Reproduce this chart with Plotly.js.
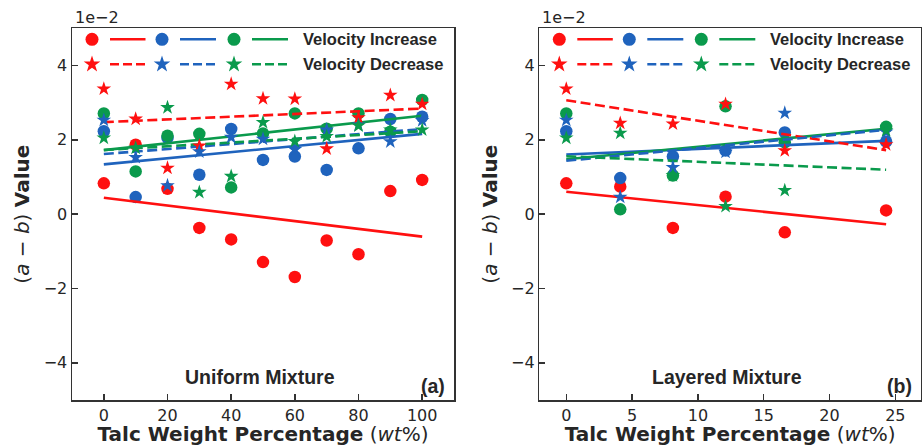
<!DOCTYPE html>
<html>
<head>
<meta charset="utf-8">
<script src="https://cdn.plot.ly/plotly-3.0.1.min.js"></script>
<style>html,body{margin:0;padding:0;background:#fff;}#chart{width:922px;height:446px;}</style>
</head>
<body>
<div id="chart"></div>
<script>
// ---------- DATA (values in units of 1e-2) ----------
const xUniform = [0, 10, 20, 30, 40, 50, 60, 70, 80, 90, 100];
const uRedInc   = [0.83, 1.87, 0.68, -0.37, -0.68, -1.29, -1.69, -0.71, -1.08, 0.62, 0.92];
const uBlueInc  = [2.23, 0.46, 2.05, 1.06, 2.29, 1.46, 1.55, 1.19, 1.77, 2.56, 2.62];
const uGreenInc = [2.71, 1.15, 2.11, 2.16, 0.72, 2.17, 2.71, 2.30, 2.71, 2.22, 3.07];
const uRedDec   = [3.37, 2.56, 1.24, 1.84, 3.50, 3.11, 3.10, 1.76, 2.60, 3.20, 2.96];
const uBlueDec  = [2.53, 1.53, 0.77, 1.68, 2.07, 2.02, 1.74, 2.27, 2.40, 1.95, 2.52];
const uGreenDec = [2.05, 1.78, 2.87, 0.59, 1.02, 2.47, 1.96, 2.09, 2.38, 2.27, 2.27];

const xLayered = [0, 4.1, 8.1, 12.1, 16.6, 24.3];
const lRedInc   = [0.83, 0.74, -0.37, 0.47, -0.49, 0.10];
const lBlueInc  = [2.23, 0.97, 1.55, 1.71, 2.20, 1.95];
const lGreenInc = [2.71, 0.13, 1.04, 2.90, 1.93, 2.35];
const lRedDec   = [3.37, 2.45, 2.43, 2.96, 1.71, 1.87];
const lBlueDec  = [2.53, 0.46, 1.26, 1.67, 2.72, 2.21];
const lGreenDec = [2.05, 2.18, 1.04, 0.21, 0.64, 2.25];

const yTicks = [-4, -2, 0, 2, 4];
const xTicksUniform = [0, 20, 40, 60, 80, 100];
const xTicksLayered = [0, 5, 10, 15, 20, 25];
const legendLabels = ['Velocity Increase', 'Velocity Decrease'];
const panelLabels = ['Uniform Mixture', 'Layered Mixture'];
const panelTags = ['(a)', '(b)'];

// ---------- STYLE ----------
const RED = '#ff1010', BLUE = '#1f63bd', GREEN = '#0a9a4c';
const colors = [RED, BLUE, GREEN];
const CIRC = 12.5, STAR = 11, LW = 2.6, DASH = '10px,4.5px';
const AXC = '#333333', TXT = '#262626';

function fit(x, y) {
  const n = x.length;
  const mx = x.reduce((a, b) => a + b, 0) / n;
  const my = y.reduce((a, b) => a + b, 0) / n;
  let sxy = 0, sxx = 0;
  for (let i = 0; i < n; i++) { sxy += (x[i] - mx) * (y[i] - my); sxx += (x[i] - mx) ** 2; }
  const b = sxy / sxx, a = my - b * mx;
  const xs = [Math.min(...x), Math.max(...x)];
  return { x: xs, y: xs.map(v => a + b * v) };
}

const traces = [];
function panel(x, inc, dec, xa, ya) {
  inc.forEach((y, i) => traces.push({x: x, y: y, xaxis: xa, yaxis: ya, type: 'scatter', mode: 'markers',
    marker: {symbol: 'circle', size: CIRC, color: colors[i]}, hoverinfo: 'skip', showlegend: false}));
  inc.forEach((y, i) => { const f = fit(x, y); traces.push({x: f.x, y: f.y, xaxis: xa, yaxis: ya, type: 'scatter', mode: 'lines',
    line: {color: colors[i], width: LW}, hoverinfo: 'skip', showlegend: false}); });
  dec.forEach((y, i) => { const f = fit(x, y); traces.push({x: f.x, y: f.y, xaxis: xa, yaxis: ya, type: 'scatter', mode: 'lines',
    line: {color: colors[i], width: LW, dash: DASH}, hoverinfo: 'skip', showlegend: false}); });
  dec.forEach((y, i) => traces.push({x: x, y: y, xaxis: xa, yaxis: ya, type: 'scatter', mode: 'markers',
    marker: {symbol: 'star', size: STAR, color: colors[i]}, hoverinfo: 'skip', showlegend: false}));
}
panel(xUniform, [uRedInc, uBlueInc, uGreenInc], [uRedDec, uBlueDec, uGreenDec], 'x', 'y');
panel(xLayered, [lRedInc, lBlueInc, lGreenInc], [lRedDec, lBlueDec, lGreenDec], 'x2', 'y2');

// ---------- LEGEND (drawn on pixel-unit overlay axes) ----------
const W = 922, H = 446;
const leftPx = [72, 539.3], rightPx = [454, 921], topPx = 28.3, botPx = 400;
const LEG = { rows: [11, 36], mark: [20, 90, 162], seg: [[38, 73.5], [108, 144], [180, 216]], text: 229 };
const annotations = [];
['3', '4'].forEach((k, p) => {
  const xa = 'x' + k, ya = 'y' + k;
  LEG.rows.forEach((ry, r) => {
    colors.forEach((c, i) => {
      traces.push({x: [LEG.mark[i]], y: [ry], xaxis: xa, yaxis: ya, type: 'scatter', mode: 'markers',
        marker: {symbol: r === 0 ? 'circle' : 'star', size: r === 0 ? 13 : 12.5, color: c}, hoverinfo: 'skip', showlegend: false});
      traces.push({x: LEG.seg[i], y: [ry, ry], xaxis: xa, yaxis: ya, type: 'scatter', mode: 'lines',
        line: {color: c, width: LW, dash: r === 0 ? 'solid' : '9px,4px'}, hoverinfo: 'skip', showlegend: false});
    });
    annotations.push({xref: xa, yref: ya, x: LEG.text, y: ry, xanchor: 'left', yanchor: 'middle', showarrow: false,
      text: '<b>' + legendLabels[r] + '</b>', font: {family: 'Liberation Sans, Arial', size: 16.5, color: TXT}});
  });
  annotations.push({xref: xa, yref: ya, x: 188, y: 348.5, xanchor: 'center', yanchor: 'middle', showarrow: false,
    text: '<b>' + panelLabels[p] + '</b>', font: {family: 'Liberation Sans, Arial', size: 19.5, color: TXT}});
  annotations.push({xref: xa, yref: ya, x: 375, y: 357.5, xanchor: 'right', yanchor: 'middle', showarrow: false,
    text: '<b>' + panelTags[p] + '</b>', font: {family: 'Liberation Sans, Arial', size: 19.5, color: TXT}});
  annotations.push({xref: 'paper', yref: 'paper', x: (leftPx[p] + 1) / W, y: 1 - 17.5 / H, xanchor: 'left', yanchor: 'middle',
    showarrow: false, text: '1e\u22122', font: {family: 'DejaVu Sans', size: 16, color: TXT}});
});

const yDom = [1 - botPx / H, 1 - topPx / H];
const dom = p => [leftPx[p] / W, rightPx[p] / W];
const tickFont = {family: 'DejaVu Sans', size: 16, color: TXT};
const baseX = {showline: true, mirror: true, linecolor: AXC, linewidth: 1.5, ticks: 'inside', ticklen: 6, tickwidth: 1.5,
  tickcolor: AXC, showgrid: false, zeroline: false, tickfont: tickFont, tickmode: 'array'};
const xTitle = {text: '<b>Talc Weight Percentage</b> (<i>wt</i>%)', font: {family: 'DejaVu Sans', size: 20, color: TXT}, standoff: 10};
const yTitle = {text: '(<i>a</i> \u2212 <i>b</i>) <b>Value</b>', font: {family: 'DejaVu Sans', size: 20, color: TXT}, standoff: 8};
const ovl = (d, r, anchor) => ({domain: d, range: r, visible: false, anchor: anchor, fixedrange: true});

const layout = {
  width: W, height: H, margin: {l: 0, r: 0, t: 0, b: 0}, paper_bgcolor: '#fff', plot_bgcolor: 'rgba(0,0,0,0)', showlegend: false,
  xaxis: Object.assign({}, baseX, {domain: dom(0), range: [-10, 110], tickvals: xTicksUniform, anchor: 'y', title: xTitle}),
  yaxis: Object.assign({}, baseX, {domain: yDom, range: [-5, 5], tickvals: yTicks, anchor: 'x', title: yTitle}),
  xaxis2: Object.assign({}, baseX, {domain: dom(1), range: [-2.05, 26.95], tickvals: xTicksLayered, anchor: 'y2', title: xTitle}),
  yaxis2: Object.assign({}, baseX, {domain: yDom, range: [-5, 5], tickvals: yTicks, anchor: 'x2', title: yTitle}),
  xaxis3: ovl(dom(0), [0, rightPx[0] - leftPx[0]], 'y3'),
  yaxis3: ovl(yDom, [botPx - topPx, 0], 'x3'),
  xaxis4: ovl(dom(1), [0, rightPx[1] - leftPx[1]], 'y4'),
  yaxis4: ovl(yDom, [botPx - topPx, 0], 'x4'),
  annotations: annotations
};
Plotly.newPlot('chart', traces, layout, {staticPlot: true, displayModeBar: false});
</script>
</body>
</html>
